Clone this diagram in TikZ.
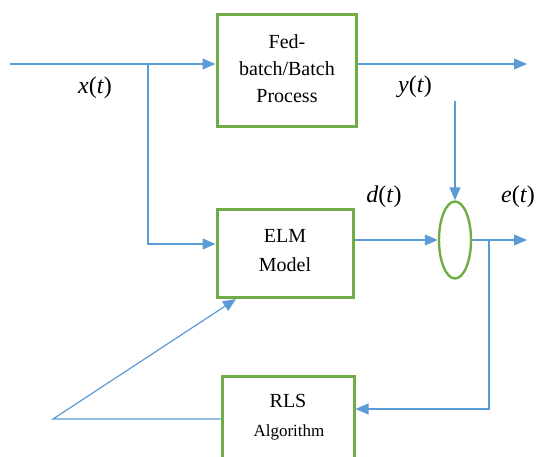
\documentclass[tikz,border=0pt]{standalone}
\usepackage{fontspec}
\setmainfont{Liberation Serif}
\usetikzlibrary{arrows.meta,shapes.geometric}
\definecolor{lineblue}{HTML}{5B9BD5}
\definecolor{boxgreen}{HTML}{70AD47}
\begin{document}
\begin{tikzpicture}[x=1pt,y=-1pt,
  blockbox/.style={draw=boxgreen, line width=3pt, inner sep=0pt},
  sumnode/.style={ellipse, draw=boxgreen, line width=2.4pt, inner sep=0pt, minimum width=32pt, minimum height=77pt},
  plainline/.style={draw=lineblue, line width=1.2pt},
  conn/.style={plainline, -{Triangle[length=13pt,width=11pt]}},
  lbl/.style={font=\fontsize{20}{24}\selectfont, anchor=base},
  smalllbl/.style={font=\fontsize{17}{20}\selectfont, anchor=base},
  siglbl/.style={font=\fontsize{24}{28}\selectfont, anchor=base}]
\useasboundingbox (0,0) rectangle (538,457);

% blocks
\node[blockbox, minimum width=139pt, minimum height=112pt] (fed) at (286.5,71) {};
\node[blockbox, minimum width=136pt, minimum height=87pt] (elm) at (285,253.5) {};
\node[blockbox, minimum width=132pt, minimum height=94pt] (rls) at (288,423) {};
\node[sumnode] (sum) at (455,240) {};

% block texts
\node[lbl] (fed1) at (287,49) {Fed-};
\node[lbl] (fed2) at (287,76) {batch/Batch};
\node[lbl] (fed3) at (287,103) {Process};
\node[lbl] (elm1) at (285,243) {ELM};
\node[lbl] (elm2) at (285,271) {Model};
\node[lbl] (rls1) at (288,407) {RLS};
\node[smalllbl] (rls2) at (289,436) {Algorithm};

% signal labels
\node[siglbl] (xl) at (95,94) {\textit{x}(\textit{t})};
\node[siglbl] (yl) at (415,93) {\textit{y}(\textit{t})};
\node[siglbl] (dl) at (384,203) {\textit{d}(\textit{t})};
\node[siglbl] (el) at (518,203) {\textit{e}(\textit{t})};

% coordinates
\coordinate (in) at (10,64);
\coordinate (br) at (148,64);
\coordinate (br2) at (148,244);
\coordinate (out) at (527,64);
\coordinate (yin) at (455,101);
\coordinate (eout) at (527,240);
\coordinate (eb) at (489,240);
\coordinate (fb) at (489,409);
\coordinate (ll) at (53,419);
\coordinate (elmin) at (236,299);

% connectors
\draw[conn] (in) -- (in -| fed.west);
\draw[conn] (br) -- (br2) -- (br2 -| elm.west);
\draw[conn] (out -| fed.east) -- (out);
\draw[conn] (yin) -- (sum.north);
\draw[conn] (elm.east |- sum.west) -- (sum.west);
\draw[conn] (sum.east) -- (eout);
\draw[conn] (eb) -- (fb) -- (fb -| rls.east);
\draw[conn] (rls.west |- ll) -- (ll) -- (elmin);
\end{tikzpicture}
\end{document}
